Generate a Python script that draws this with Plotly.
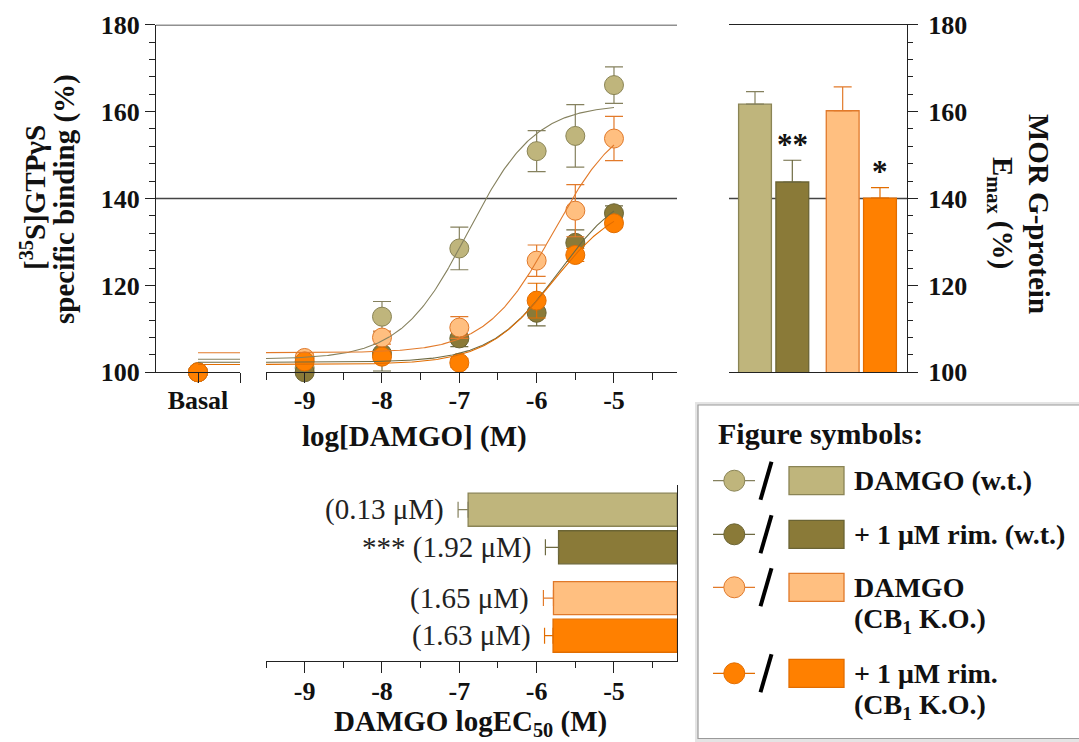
import numpy as np
import plotly.graph_objects as go

W, H = 1079, 742

# ---------------- data ----------------
groups = ["DAMGO (w.t.)", "+ 1 μM rim. (w.t.)", "DAMGO (CB1 K.O.)", "+ 1 μM rim. (CB1 K.O.)"]
log_damgo = [-9, -8, -7, -6, -5.5, -5]
basal_binding = [100, 100, 100, 100]

binding_damgo_wt = [101.0, 112.8, 128.5, 150.9, 154.4, 166.1]
sem_damgo_wt = [1.5, 3.5, 4.9, 4.7, 7.2, 4.2]
binding_rim_wt = [100.0, 104.3, 107.8, 113.7, 129.8, 136.6]
sem_rim_wt = [1.0, 4.0, 1.9, 3.0, 3.0, 1.7]
binding_damgo_ko = [103.3, 108.0, 110.3, 125.7, 137.2, 153.8]
sem_damgo_ko = [1.0, 1.5, 2.5, 3.6, 6.0, 5.1]
binding_rim_ko = [102.5, 103.6, 102.2, 116.5, 127.0, 134.3]
sem_rim_ko = [1.0, 1.0, 1.0, 4.0, 1.5, 1.0]

# sigmoidal fit parameters (bottom plateau, Emax, EC50)
fit_bottom = [103.0, 102.3, 104.5, 101.8]
emax = [161.7, 143.8, 160.2, 140.1]
emax_sem = [2.9, 5.0, 5.5, 2.4]
emax_sig = ["", "**", "", "*"]

ec50_uM = [0.13, 1.92, 1.65, 1.63]
logec50_sem = [0.13, 0.17, 0.13, 0.11]
ec50_sig = ["", "***", "", ""]

y_ticks = [100, 120, 140, 160, 180]
x_ticks = [-9, -8, -7, -6, -5]

legend_lines = [["DAMGO (w.t.)"], ["+ 1 μM rim. (w.t.)"],
                ["DAMGO", "(CB<sub>1</sub> K.O.)"], ["+ 1 μM rim.", "(CB<sub>1</sub> K.O.)"]]

# ---------------- styles ----------------
fill_colors = ["#BFB57C", "#8A7A38", "#FFBF80", "#FF8000"]
edge_colors = ["#8A8455", "#6B6434", "#E0792A", "#E26D00"]
line_colors = ["#85815E", "#6E6A42", "#E27A2A", "#E26D00"]
AX = "#222222"
SERIF = "Liberation Serif"
X_END = -4.185


def P(x):
    return x / W


def Q(y):
    return 1 - y / H


def sigmoid(x, bottom, top, logec50):
    return bottom + (top - bottom) / (1 + 10 ** (logec50 - x))


series = [(binding_damgo_wt, sem_damgo_wt), (binding_rim_wt, sem_rim_wt),
          (binding_damgo_ko, sem_damgo_ko), (binding_rim_ko, sem_rim_ko)]
log_ec50 = np.log10(np.array(ec50_uM) * 1e-6)
bar_pos = [i + 0.35 * (i >= 2) for i in range(4)]

fig = go.Figure()

# ---- concentration-response: points ----
for i, (vals, sems) in enumerate(series):
    fig.add_trace(go.Scatter(
        x=log_damgo, y=vals, xaxis="x2", yaxis="y", mode="markers",
        marker=dict(size=19, color=fill_colors[i], line=dict(color=edge_colors[i], width=1)),
        error_y=dict(type="data", array=sems, color=line_colors[i], thickness=1.2, width=9),
        cliponaxis=False, showlegend=False, name=groups[i]))
for i in range(4):
    fig.add_trace(go.Scatter(
        x=[0], y=[basal_binding[i]], xaxis="x", yaxis="y", mode="markers",
        marker=dict(size=19, color=fill_colors[i], line=dict(color=edge_colors[i], width=1)),
        cliponaxis=False, showlegend=False, name=groups[i]))

# ---- fitted curves ----
xfit = np.linspace(-9.6, -5, 300)
for i in range(4):
    fig.add_trace(go.Scatter(
        x=[0, 1.2], y=[fit_bottom[i]] * 2, xaxis="x", yaxis="y", mode="lines",
        line=dict(color=line_colors[i], width=1.1), showlegend=False, hoverinfo="skip"))
    fig.add_trace(go.Scatter(
        x=xfit, y=sigmoid(xfit, fit_bottom[i], emax[i], log_ec50[i]), xaxis="x2", yaxis="y",
        mode="lines", line=dict(color=line_colors[i], width=1.1), showlegend=False,
        hoverinfo="skip"))

# ---- Emax bars ----
for i in range(4):
    fig.add_trace(go.Bar(
        x=[bar_pos[i]], y=[emax[i]], width=0.88, xaxis="x3", yaxis="y3",
        marker=dict(color=fill_colors[i], line=dict(color=edge_colors[i], width=1.3)),
        error_y=dict(type="data", symmetric=False, array=[emax_sem[i]], arrayminus=[0],
                     color=line_colors[i], thickness=1.2, width=9),
        showlegend=False, name=groups[i]))

# ---- logEC50 bars ----
for i in range(4):
    fig.add_trace(go.Bar(
        y=[bar_pos[i]], x=[X_END - log_ec50[i]], base=[log_ec50[i]], orientation="h",
        width=0.88, xaxis="x4", yaxis="y4",
        marker=dict(color=fill_colors[i], line=dict(color=edge_colors[i], width=1.3)),
        showlegend=False, name=groups[i]))
    fig.add_trace(go.Scatter(
        x=[log_ec50[i]], y=[bar_pos[i]], xaxis="x4", yaxis="y4", mode="markers",
        marker=dict(size=1, opacity=0),
        error_x=dict(type="data", symmetric=False, array=[0], arrayminus=[logec50_sem[i]],
                     color=line_colors[i], thickness=1.2, width=8),
        showlegend=False, hoverinfo="skip"))

annotations = []
shapes = []

# EC50 labels
for i in range(4):
    label = f"({ec50_uM[i]:.2f} μM)"
    if ec50_sig[i]:
        label = ec50_sig[i] + " " + label
    annotations.append(dict(
        x=log_ec50[i] - logec50_sem[i], y=bar_pos[i], xref="x4", yref="y4",
        text=label, showarrow=False, xanchor="right", yanchor="middle", xshift=-12,
        font=dict(family=SERIF, size=29, color="#222")))

# significance stars on Emax bars
for i in range(4):
    if emax_sig[i]:
        annotations.append(dict(
            x=bar_pos[i], y=emax[i] + emax_sem[i], xref="x3", yref="y3",
            text=emax_sig[i], showarrow=False, xanchor="center", yanchor="middle", yshift=16,
            font=dict(family=SERIF, size=31, color="#111", weight="bold")))

# axis titles
title_font = dict(family=SERIF, size=29, color="#111", weight="bold")


def title(px, py, text, angle=0):
    return dict(x=P(px), y=Q(py), xref="paper", yref="paper", text=text, textangle=angle,
                showarrow=False, xanchor="center", yanchor="middle", font=title_font)


annotations += [
    title(33, 198, "[<sup>35</sup>S]GTPγS", -90),
    title(65, 199, "specific binding (%)", -90),
    title(414, 436, "log[DAMGO] (M)"),
    title(1039, 214, "MOR G-protein", 90),
    title(1001, 213, "E<sub>max</sub> (%)", 90),
    title(470, 723, "DAMGO logEC<sub>50</sub> (M)"),
]

# reference lines
shapes += [
    dict(type="line", xref="paper", yref="y", x0=P(156), x1=P(677), y0=180, y1=180,
         line=dict(color=AX, width=1.6), layer="above"),
    dict(type="line", xref="paper", yref="y", x0=P(156), x1=P(677), y0=140, y1=140,
         line=dict(color="#444", width=1.3), layer="below"),
    dict(type="line", xref="paper", yref="y3", x0=P(729), x1=P(907), y0=140, y1=140,
         line=dict(color="#444", width=1.3), layer="below"),
]

# ---- symbol key ----
shapes += [
    dict(type="rect", xref="paper", yref="paper", x0=P(695), x1=P(1095), y0=Q(402), y1=Q(744),
         line=dict(width=0), fillcolor="#E4E4E4", layer="above"),
    dict(type="rect", xref="paper", yref="paper", x0=P(698), x1=P(1095), y0=Q(405), y1=Q(738.5),
         line=dict(color="#9A9A9A", width=1.2), fillcolor="white", layer="above"),
]
annotations.append(dict(x=P(716), y=Q(433), xref="paper", yref="paper", text="Figure symbols:",
                        showarrow=False, xanchor="left", yanchor="middle",
                        font=dict(family=SERIF, size=30, color="#111", weight="bold")))
row_y = [480.7, 534.3, 587.3, 673.3]
for i, ry in enumerate(row_y):
    shapes += [
        dict(type="line", xref="paper", yref="paper", x0=P(713), x1=P(755), y0=Q(ry), y1=Q(ry),
             line=dict(color=line_colors[i], width=1.3), layer="above"),
        dict(type="circle", xref="paper", yref="paper", x0=P(734.3 - 10.5), x1=P(734.3 + 10.5),
             y0=Q(ry + 10.5), y1=Q(ry - 10.5), fillcolor=fill_colors[i],
             line=dict(color=edge_colors[i], width=1), layer="above"),
        dict(type="line", xref="paper", yref="paper", x0=P(771.5), x1=P(760.5),
             y0=Q(ry - 19), y1=Q(ry + 19), line=dict(color="#000", width=4), layer="above"),
        dict(type="rect", xref="paper", yref="paper", x0=P(789), x1=P(844),
             y0=Q(ry + 14), y1=Q(ry - 14), fillcolor=fill_colors[i],
             line=dict(color=edge_colors[i], width=1.3), layer="above"),
    ]
    for k, txt in enumerate(legend_lines[i]):
        annotations.append(dict(x=P(852), y=Q(ry + 33 * k), xref="paper", yref="paper",
                                text=txt, showarrow=False, xanchor="left", yanchor="middle",
                                font=dict(family=SERIF, size=28, color="#111", weight="bold")))

tick_font = dict(family=SERIF, size=26, color="#111", weight="bold")
common = dict(showgrid=False, zeroline=False, linecolor=AX, linewidth=1.3, tickcolor=AX,
              fixedrange=True, automargin=False)
minor_x = [v for v in np.arange(-9.5, X_END, 0.5) if v not in x_ticks]

fig.update_layout(
    width=W, height=H, margin=dict(l=0, r=0, t=0, b=0, autoexpand=False),
    paper_bgcolor="white", plot_bgcolor="rgba(0,0,0,0)",
    barmode="overlay", showlegend=False,
    xaxis=dict(domain=[P(156), P(240)], range=[-1, 1], anchor="y", showline=True,
               ticks="outside", ticklen=10, tickmode="array", tickvals=[0, 1],
               ticktext=["Basal", ""], tickfont=tick_font, ticklabelstandoff=-6, **common),
    xaxis2=dict(domain=[P(266), P(677)], range=[-9.5, X_END], anchor="y", showline=True,
                ticks="outside", ticklen=10, tickmode="array", tickvals=x_ticks,
                ticktext=[str(v) for v in x_ticks], tickfont=tick_font, ticklabelstandoff=-6,
                minor=dict(tickmode="array", tickvals=minor_x, ticks="outside", ticklen=7,
                           tickcolor=AX), **common),
    yaxis=dict(domain=[Q(372.3), Q(24.7)], range=[100, 180], anchor="x", showline=True,
               ticks="outside", ticklen=10, tickmode="linear", tick0=100, dtick=20,
               tickfont=tick_font,
               minor=dict(tick0=100, dtick=4, ticks="outside", ticklen=6, tickcolor=AX),
               **common),
    xaxis3=dict(domain=[P(729), P(907)], range=[-0.697, 4.074], anchor="y3", showline=True,
                mirror=True, ticks="", showticklabels=False, **common),
    yaxis3=dict(domain=[Q(372.3), Q(24.7)], range=[100, 180], anchor="x3", side="right",
                showline=True, ticks="outside", ticklen=10, tickmode="linear", tick0=100,
                dtick=20, tickfont=tick_font, ticklabelstandoff=5,
                minor=dict(tick0=100, dtick=4, ticks="outside", ticklen=5, tickcolor=AX),
                **common),
    xaxis4=dict(domain=[P(266), P(677)], range=[-9.5, X_END], anchor="y4", showline=True,
                ticks="outside", ticklen=11, tickmode="array", tickvals=x_ticks,
                ticktext=[str(v) for v in x_ticks], tickfont=tick_font, ticklabelstandoff=-4,
                minor=dict(tickmode="array", tickvals=minor_x, ticks="outside", ticklen=6,
                           tickcolor=AX), **common),
    yaxis4=dict(domain=[Q(660.7), Q(485)], range=[4.015, -0.657], anchor="x4", side="right",
                showline=True, ticks="", showticklabels=False, **common),
    annotations=annotations, shapes=shapes,
)

fig.write_html("out.html")
